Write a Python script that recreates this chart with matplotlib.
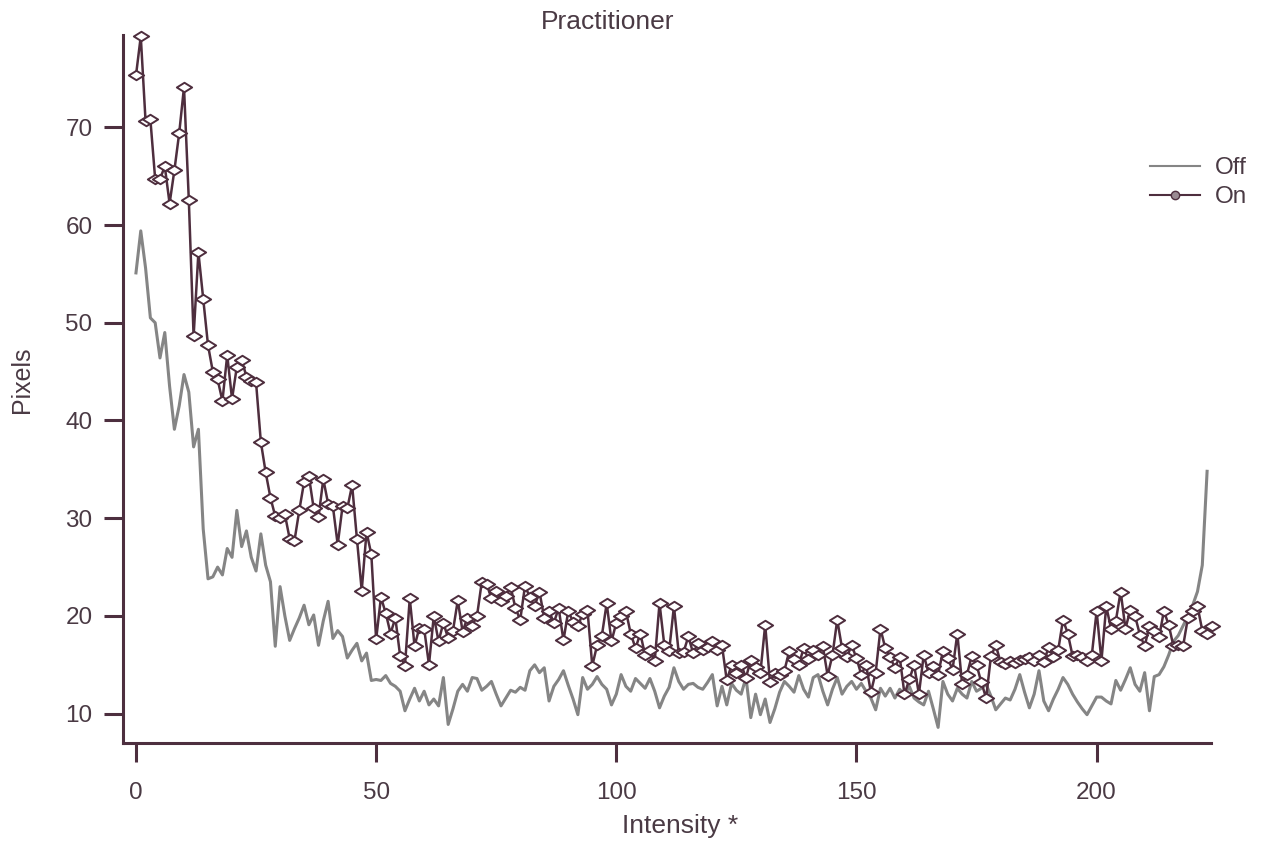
import matplotlib
matplotlib.use("Agg")
import matplotlib.pyplot as plt
from matplotlib.lines import Line2D
from matplotlib.path import Path

plt.rcParams['font.family'] = ['Liberation Sans', 'DejaVu Sans']

title = "Practitioner"
x_label = "Intensity *"
y_label = "Pixels"
x_ticks = [0, 50, 100, 150, 200]
y_ticks = [10, 20, 30, 40, 50, 60, 70]

on_values = [
    75.3, 79.3, 70.6, 70.8, 64.7, 64.7, 66.0, 62.2, 65.6, 69.4,
    74.1, 62.6, 48.6, 57.2, 52.4, 47.7, 45.0, 44.2, 42.0, 46.7,
    42.2, 45.5, 46.2, 44.5, 44.0, 43.9, 37.8, 34.7, 32.1, 30.2,
    30.0, 30.4, 27.9, 27.7, 30.8, 33.7, 34.3, 31.0, 30.1, 34.0,
    31.5, 31.2, 27.3, 31.2, 31.0, 33.4, 27.9, 22.6, 28.6, 26.3,
    17.6, 21.9, 20.3, 18.2, 19.8, 15.9, 14.9, 21.8, 16.9, 18.8,
    18.7, 15.0, 20.0, 17.4, 19.3, 17.7, 18.5, 21.6, 18.4, 19.8,
    19.0, 20.0, 23.5, 23.3, 21.8, 22.6, 21.5, 22.0, 23.0, 20.8,
    19.6, 23.1, 21.9, 21.0, 22.5, 19.8, 20.5, 19.3, 20.8, 17.5,
    20.5, 19.4, 19.0, 20.2, 20.6, 14.9, 17.0, 18.0, 21.3, 17.4,
    19.3, 20.0, 20.5, 18.2, 16.7, 18.2, 16.0, 16.5, 15.4, 21.3,
    17.0, 16.4, 21.0, 16.2, 16.3, 17.9, 16.2, 17.2, 16.5, 16.8,
    17.4, 16.5, 17.0, 13.4, 15.0, 14.2, 15.0, 13.7, 15.5, 14.8,
    14.2, 19.1, 13.2, 14.2, 14.0, 14.4, 16.4, 15.6, 15.0, 16.7,
    15.6, 16.5, 16.0, 16.9, 13.9, 16.0, 19.6, 16.7, 15.8, 17.0,
    15.7, 14.0, 15.0, 12.2, 14.2, 18.7, 16.7, 15.8, 14.7, 15.8,
    12.0, 13.5, 15.0, 12.0, 16.0, 14.2, 14.9, 14.0, 16.4, 15.7,
    14.5, 18.2, 13.0, 14.0, 15.9, 15.0, 13.2, 11.6, 15.9, 17.0,
    15.3, 15.1, 15.4, 15.2, 15.5, 15.6, 15.8, 15.4, 16.0, 15.3,
    16.8, 15.8, 16.5, 19.6, 18.2, 15.9, 16.0, 15.8, 15.4, 16.0,
    20.5, 15.4, 21.0, 18.7, 19.5, 22.5, 18.7, 20.6, 20.0, 18.1,
    16.9, 19.0, 18.5, 17.8, 20.5, 19.1, 16.9, 17.0, 16.9, 19.8,
    20.5, 21.0, 18.5, 18.2, 19.0,
]

off_values = [
    55.1, 59.4, 55.6, 50.5, 50.0, 46.4, 49.0, 43.5, 39.1, 41.5,
    44.7, 42.9, 37.3, 39.1, 28.9, 23.8, 24.0, 25.0, 24.2, 26.9,
    26.0, 30.8, 27.1, 28.7, 26.0, 24.6, 28.4, 25.2, 23.5, 16.9,
    23.0, 20.0, 17.5, 18.7, 19.8, 21.1, 19.1, 20.1, 17.0, 19.5,
    21.5, 17.7, 18.5, 17.9, 15.7, 16.5, 17.2, 15.4, 16.2, 13.4,
    13.5, 13.4, 13.9, 13.1, 12.8, 12.3, 10.3, 11.5, 12.6, 11.3,
    12.3, 10.9, 11.5, 10.8, 13.7, 8.9, 10.5, 12.3, 13.0, 12.3,
    13.7, 13.6, 12.4, 12.8, 13.3, 12.0, 10.8, 11.6, 12.4, 12.2,
    12.7, 12.4, 14.4, 15.0, 14.2, 14.7, 11.3, 12.8, 13.5, 14.4,
    12.9, 11.5, 9.9, 13.7, 12.5, 13.0, 13.8, 13.0, 12.5, 10.9,
    12.0, 14.0, 12.8, 12.3, 13.6, 13.1, 12.6, 13.6, 12.3, 10.6,
    11.8, 12.7, 14.7, 13.3, 12.5, 13.0, 13.1, 12.7, 12.5, 13.2,
    14.0, 10.8, 12.8, 10.9, 13.1, 12.4, 12.0, 13.7, 9.6, 12.0,
    9.9, 11.5, 9.1, 10.5, 12.2, 13.3, 12.8, 12.2, 13.9, 12.5,
    11.7, 13.7, 14.0, 12.3, 10.9, 12.5, 13.7, 12.0, 12.8, 13.3,
    12.5, 13.1, 12.3, 11.6, 10.4, 12.6, 11.8, 12.6, 11.6, 12.5,
    11.9, 12.8, 11.6, 11.2, 10.9, 12.3, 10.5, 8.6, 13.3, 12.0,
    11.3, 12.6, 12.0, 11.6, 13.3, 12.3, 12.6, 13.0, 11.8, 10.4,
    11.0, 11.6, 11.4, 12.5, 14.0, 12.2, 10.6, 12.0, 14.4, 11.3,
    10.3, 11.5, 12.5, 13.7, 13.0, 12.0, 11.2, 10.5, 9.9, 10.8,
    11.7, 11.7, 11.3, 11.0, 13.4, 12.4, 13.5, 14.7, 13.0, 12.3,
    14.2, 10.3, 13.8, 14.0, 14.8, 16.0, 17.4, 18.0, 19.0, 20.0,
    21.1, 22.5, 25.2, 34.8,
]

on_x = list(range(len(on_values)))
off_x = list(range(len(off_values)))

axis_color = "#4d2f3f"
text_color = "#4a3a44"
on_color = "#4e2e3e"
off_color = "#858585"

# wide, flat diamond marker like the original
flat_diamond = Path([(-1.0, 0.0), (0.0, 0.62), (1.0, 0.0), (0.0, -0.62), (-1.0, 0.0)],
                    [Path.MOVETO, Path.LINETO, Path.LINETO, Path.LINETO, Path.CLOSEPOLY])

fig = plt.figure(figsize=(12.68, 8.43), dpi=100)
ax = fig.add_axes([0.097, 0.1186, 0.858, 0.8394])

ax.plot(off_x, off_values, color=off_color, lw=2.2, zorder=2, clip_on=False)
ax.plot(on_x, on_values, color=on_color, lw=1.8, marker=flat_diamond, markersize=11,
        markerfacecolor='white', markeredgecolor=on_color, markeredgewidth=1.4,
        zorder=3, clip_on=False)

ax.set_xlim(-2.7, 223.8)
ax.set_ylim(7.0, 79.4)
ax.set_xticks(x_ticks)
ax.set_yticks(y_ticks)

for side in ['top', 'right']:
    ax.spines[side].set_visible(False)
for side in ['left', 'bottom']:
    ax.spines[side].set_color(axis_color)
    ax.spines[side].set_linewidth(2.2)

ax.tick_params(axis='both', direction='out', length=14, width=2.2,
               color=axis_color, labelcolor=text_color, labelsize=17.5)
ax.tick_params(axis='y', pad=8)
ax.tick_params(axis='x', pad=14)

fig.text(608 / 1268, 1 - 22 / 843, title, ha='center', va='center',
         fontsize=19, color=text_color)
fig.text(680 / 1268, 1 - 826 / 843, x_label, ha='center', va='center',
         fontsize=19, color=text_color)
fig.text(22 / 1268, 1 - 380 / 843, y_label, ha='center', va='center',
         fontsize=18, color=text_color, rotation=90)

handles = [
    Line2D([], [], color=off_color, lw=1.5),
    Line2D([], [], color=on_color, lw=1.5, marker='o', markersize=6,
           markerfacecolor='#9a8a92', markeredgecolor=on_color),
]
leg = fig.legend(handles, ["Off", "On"], loc='upper left',
                 bbox_to_anchor=(1150 / 1268, 1 - 157 / 843),
                 bbox_transform=fig.transFigure, frameon=False,
                 fontsize=17.5, handlelength=2.05, handletextpad=0.6,
                 labelspacing=0.3, borderpad=0, borderaxespad=0)
for t in leg.get_texts():
    t.set_color(text_color)

fig.savefig("out.png", dpi=100)
